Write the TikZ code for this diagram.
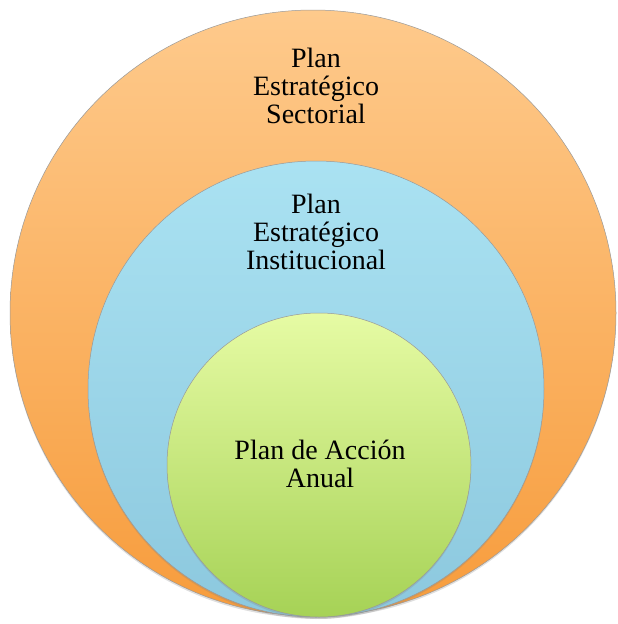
\documentclass[tikz,border=0pt]{standalone}
\usepackage{fontspec}
\setmainfont{Liberation Serif}
\usetikzlibrary{shadows}
\begin{document}
\begin{tikzpicture}[x=1pt,y=-1pt,
  disc/.style={circle, inner sep=0pt, draw=black!40, line width=0.5pt,
    drop shadow={shadow xshift=0pt, shadow yshift=-2pt, opacity=0.25}},
  lbl/.style={align=center, inner sep=0pt, anchor=base, font=\fontsize{28}{28}\selectfont, text=black}]
\useasboundingbox (0,0) rectangle (618,624);
\node[disc, minimum size=606pt, top color={rgb,255:red,254;green,202;blue,140}, bottom color={rgb,255:red,247;green,156;blue,60}] (outer) at (313,313) {};
\node[disc, minimum size=456pt, top color={rgb,255:red,170;green,226;blue,242}, bottom color={rgb,255:red,140;green,200;blue,222}] (mid) at (316,389) {};
\node[disc, minimum size=304pt, top color={rgb,255:red,230;green,251;blue,164}, bottom color={rgb,255:red,166;green,210;blue,86}] (inner) at (319,465) {};
\node[lbl] (t1) at (316,123) {Plan\\Estratégico\\Sectorial};
\node[lbl] (t2) at (316,269) {Plan\\Estratégico\\Institucional};
\node[lbl] (t3) at (320,487) {Plan de Acción\\Anual};
\end{tikzpicture}
\end{document}
